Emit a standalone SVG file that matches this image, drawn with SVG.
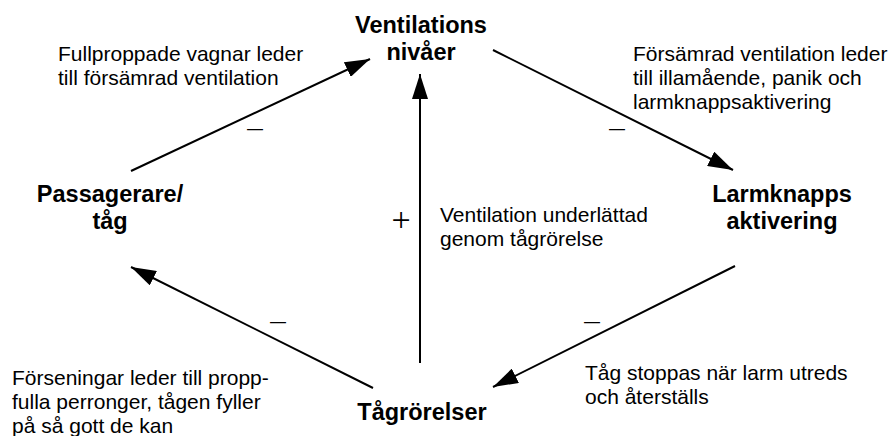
<svg xmlns="http://www.w3.org/2000/svg" width="893" height="436" viewBox="0 0 893 436">
  <style>
    .node { font-family: "Liberation Sans", Arial, sans-serif; font-size: 23.5px; font-weight: bold; fill: #000; text-anchor: middle; }
    .lbl { font-family: "Liberation Sans", Arial, sans-serif; font-size: 21px; fill: #000; }
    .sign { font-family: "Liberation Sans", Arial, sans-serif; font-size: 16px; fill: #000; text-anchor: middle; }
    .plus { font-family: "Liberation Serif", "Times New Roman", serif; font-size: 34px; fill: #000; text-anchor: middle; }
    .edge { stroke: #000; stroke-width: 2; fill: none; marker-end: url(#arrow); }
  </style>
  <defs>
    <marker id="arrow" markerUnits="userSpaceOnUse" markerWidth="25" markerHeight="16" refX="25" refY="8" orient="auto">
      <path d="M0,0 L25,8 L0,16 z" fill="#000"/>
    </marker>
  </defs>
  <rect width="893" height="436" fill="#fff"/>

  <!-- causal links -->
  <g id="connectors">
    <line class="edge" x1="131" y1="171" x2="370" y2="59"/>
    <line class="edge" x1="493" y1="50" x2="733" y2="170"/>
    <line class="edge" x1="735" y1="266" x2="493" y2="387"/>
    <line class="edge" x1="373" y1="388" x2="131" y2="267"/>
    <line class="edge" x1="420" y1="363" x2="420" y2="74"/>
  </g>

  <!-- polarity signs -->
  <g id="signs">
    <text class="sign" x="255" y="134">—</text>
    <text class="sign" x="617" y="134">—</text>
    <text class="sign" x="592" y="327">—</text>
    <text class="sign" x="278" y="327">—</text>
    <text class="plus" x="401" y="231">+</text>
  </g>

  <!-- link descriptions -->
  <g id="labels">
    <text class="lbl" x="58" y="61">Fullproppade vagnar leder</text>
    <text class="lbl" x="58" y="85">till försämrad ventilation</text>
    <text class="lbl" x="633" y="61">Försämrad ventilation leder</text>
    <text class="lbl" x="633" y="85">till illamående, panik och</text>
    <text class="lbl" x="633" y="109">larmknappsaktivering</text>
    <text class="lbl" x="440" y="222">Ventilation underlättad</text>
    <text class="lbl" x="440" y="246">genom tågrörelse</text>
    <text class="lbl" x="585" y="380">Tåg stoppas när larm utreds</text>
    <text class="lbl" x="585" y="404">och återställs</text>
    <text class="lbl" x="12" y="385">Förseningar leder till propp-</text>
    <text class="lbl" x="12" y="409">fulla perronger, tågen fyller</text>
    <text class="lbl" x="12" y="433">på så gott de kan</text>
  </g>

  <g id="ventilation">
    <text class="node" x="421" y="33">Ventilations</text>
    <text class="node" x="421" y="60">nivåer</text>
  </g>
  <g id="passagerare">
    <text class="node" x="110" y="202">Passagerare/</text>
    <text class="node" x="110" y="229">tåg</text>
  </g>
  <g id="larmknapp">
    <text class="node" x="782" y="202">Larmknapps</text>
    <text class="node" x="782" y="229">aktivering</text>
  </g>
  <g id="tagrorelser">
    <text class="node" x="422" y="420">Tågrörelser</text>
  </g>
</svg>
